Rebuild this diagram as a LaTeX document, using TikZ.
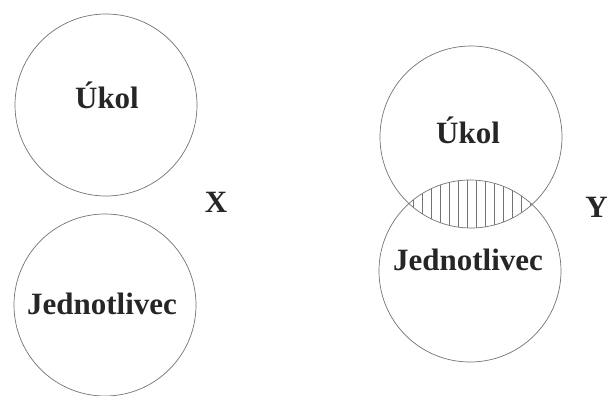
\documentclass[tikz,border=0pt]{standalone}
\usepackage{fontspec}
\setmainfont{Liberation Serif}
\begin{document}
\begin{tikzpicture}[x=1pt,y=-1pt,
  setcircle/.style={circle,draw=black!55,line width=0.7pt,minimum size=182pt,inner sep=0pt},
  lbl/.style={font=\fontsize{31}{36}\selectfont\bfseries,inner sep=0pt,anchor=base,text=black!85},
  hatch/.style={draw=black!55,line width=0.6pt}]
\useasboundingbox (0,0) rectangle (608,396);
% left pair
\node[setcircle] (lt) at (106,105) {};
\node[setcircle] (lb) at (105,305) {};
\node[lbl] (lttext) at (107,108) {Úkol};
\node[lbl] (lbtext) at (102,314) {Jednotlivec};
\node[lbl] (x) at (216,212) {X};
% right pair
\node[setcircle] (rt) at (471,137) {};
\node[setcircle] (rb) at (470,271) {};
\begin{scope}
  \clip (471,137) circle (91pt);
  \clip (470,271) circle (91pt);
  \foreach \hx in {413,422,...,531} {
    \draw[hatch] (\hx,170) -- (\hx,240);
  }
\end{scope}
\node[lbl] (rttext) at (468,143) {Úkol};
\node[lbl] (rbtext) at (468,270) {Jednotlivec};
\node[lbl,anchor=base east] (y) at (608,217) {Y};
\end{tikzpicture}
\end{document}
